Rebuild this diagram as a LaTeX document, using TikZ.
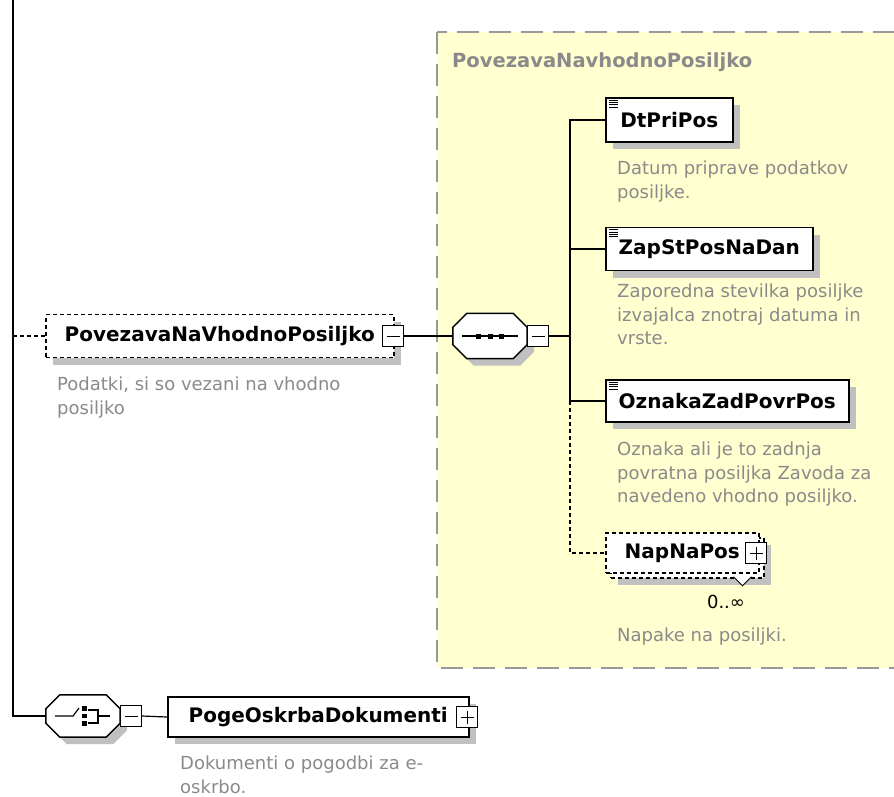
\documentclass[tikz,border=0pt]{standalone}
\usepackage{fontspec}
\setmainfont{DejaVu Sans}
\usetikzlibrary{positioning, shadows}

\definecolor{descgray}{RGB}{138,138,138}
\definecolor{groupfill}{RGB}{255,255,208}
\definecolor{groupline}{RGB}{152,152,152}
\definecolor{shadowgray}{RGB}{192,192,192}

\newcommand{\modelbox}[1]{%
  \draw[octa] ([xshift=14pt]#1.north west) -- ([xshift=-14pt]#1.north east)
    -- ([yshift=-14pt]#1.north east) -- ([yshift=14pt]#1.south east)
    -- ([xshift=-14pt]#1.south east) -- ([xshift=14pt]#1.south west)
    -- ([yshift=14pt]#1.south west) -- ([yshift=-14pt]#1.north west) -- cycle;}

\begin{document}
\begin{tikzpicture}[x=1pt, y=-1pt,
    conn/.style={line width=1.2pt},
    opt/.style={dash pattern=on 4pt off 3pt},
    optconn/.style={conn, opt},
    shade/.style={drop shadow={shadow xshift=7pt, shadow yshift=-7pt, fill=shadowgray, opacity=1}},
    box/.style={draw, fill=white, line width=1.5pt, anchor=west, minimum height=43pt, inner sep=0pt,
                font=\fontsize{20}{24}\selectfont\bfseries},
    elem/.style={box, shade},
    optelem/.style={elem, opt},
    simple/.style={elem, path picture={\foreach \dy in {2.2,4.5,6.8,9.1}
                     \draw[line width=0.8pt] ([xshift=3pt,yshift=-\dy pt]path picture bounding box.north west) -- ++(9,0);}},
    pmbox/.style={draw, fill=white, line width=1.1pt, minimum size=21pt, inner sep=0pt},
    minusbox/.style={pmbox, path picture={\draw[line width=1pt] ([xshift=4pt]path picture bounding box.west) -- ([xshift=-4pt]path picture bounding box.east);}},
    plusbox/.style={pmbox, path picture={\draw[line width=1pt] ([xshift=4pt]path picture bounding box.west) -- ([xshift=-4pt]path picture bounding box.east)
                      ([yshift=-4pt]path picture bounding box.north) -- ([yshift=4pt]path picture bounding box.south);}},
    model/.style={minimum width=74pt, minimum height=45pt, inner sep=0pt},
    octa/.style={draw, fill=white, line width=1.5pt, shade},
    desc/.style={anchor=north west, align=left, inner sep=0pt, text=descgray, font=\fontsize{18}{23.5}\selectfont},
    title/.style={anchor=base west, inner sep=0pt, text=descgray, font=\fontsize{19.5}{24}\selectfont\bfseries}]

\useasboundingbox (0,0) rectangle (894,796);
\fill[white] (0,0) rectangle (894,796);

\draw[groupline, fill=groupfill, line width=2pt, dash pattern=on 22pt off 10pt] (437,32) rectangle (910,668);
\node[title] (grouptitle) at (452,67) {PovezavaNavhodnoPosiljko};

\node[optelem, minimum width=348pt] (povez) at (45,336) {PovezavaNaVhodnoPosiljko};
\node[minusbox] (povezmin) at (393,336) {};
\node[desc] (povezdesc) at (57,377) {Podatki, si so vezani na vhodno\\posiljko};

\node[model] (seq) at (490,336) {};
\modelbox{seq}
\begin{scope}[shift={(seq.center)}]
  \draw[conn] (-28,0) -- (28,0);
  \foreach \dx in {-11.5,0,11.5}
    \fill (\dx,0) +(-2.5,-2.5) rectangle +(2.5,2.5);
\end{scope}
\node[minusbox] (seqmin) at (538,336) {};
\coordinate (bus) at (570,336);

\node[simple, minimum width=127pt, minimum height=44pt] (dtpri) at (605,120) {DtPriPos};
\node[desc] (dtpridesc) at (617,161) {Datum priprave podatkov\\posiljke.};
\node[simple, minimum width=207pt] (zapst) at (605,249) {ZapStPosNaDan};
\node[desc] (zapstdesc) at (617,284) {Zaporedna stevilka posiljke\\izvajalca znotraj datuma in\\vrste.};
\node[simple, minimum width=243pt, minimum height=42pt] (oznaka) at (605,401) {OznakaZadPovrPos};
\node[desc] (oznakadesc) at (617,442) {Oznaka ali je to zadnja\\povratna posiljka Zavoda za\\navedeno vhodno posiljko.};

\node[optelem, minimum width=153pt, minimum height=40pt] (napback) at (610,558) {};
\node[box, opt, minimum width=153pt, minimum height=40pt] (napna) at (605,553) {NapNaPos};
\node[plusbox] (napplus) at (756,553) {};
\draw[line width=1pt, fill=white] ([xshift=-26pt,yshift=-3pt]napna.south east) -- ++(9,9) -- ++(9,-9);
\node[anchor=base, inner sep=0pt, font=\fontsize{18}{20}\selectfont] (napcard) at (726,608) {0..∞};
\node[desc] (napdesc) at (617,628) {Napake na posiljki.};

\draw[conn] (povezmin.east) -- (seq.west);
\draw[conn] (seqmin.east) -- (bus);
\draw[conn] (dtpri.west) -- (dtpri.west -| bus) -- (oznaka.west -| bus) -- (oznaka.west);
\draw[conn] (zapst.west) -- (zapst.west -| bus);
\draw[optconn] (oznaka.west -| bus) -- (napna.west -| bus) -- (napna.west);

\node[model, minimum height=42pt] (choice) at (83,716) {};
\modelbox{choice}
\begin{scope}[shift={(choice.center)}]
  \draw[conn] (-28,0) -- (-10,0) -- (-4,-8);
  \foreach \dy in {-7.5,0,7.5}
    \fill (1.5,\dy) +(-2.3,-2.3) rectangle +(2.3,2.3);
  \draw[conn] (5,-6) -- (15,-6) -- (15,7) -- (5,7) (15,0) -- (27,0);
\end{scope}
\node[minusbox] (choicemin) at (131,716) {};
\node[elem, minimum width=301pt, minimum height=40pt] (poge) at (167,717) {PogeOskrbaDokumenti};
\node[plusbox] (pogeplus) at (467,717) {};
\node[desc] (pogedesc) at (180,756) {Dokumenti o pogodbi za e-\\oskrbo.};
\draw[conn] (choicemin.east) -- (poge.west);

\coordinate (root) at (13,-5);
\draw[conn] (root) -- (root |- choice) -- (choice.west);
\draw[optconn] (root |- povez) -- (povez.west);

\end{tikzpicture}
\end{document}
